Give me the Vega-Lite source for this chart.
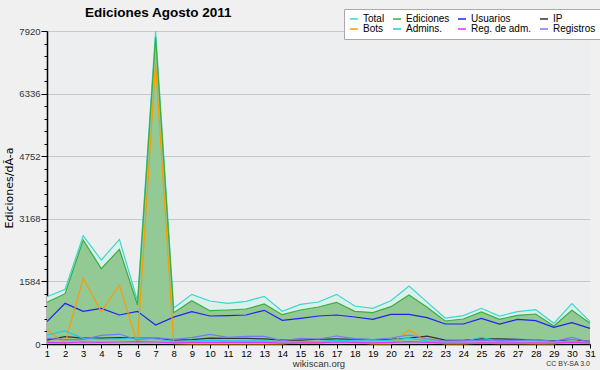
{
  "$schema": "https://vega.github.io/schema/vega-lite/v6.json",
  "width": 543,
  "height": 313,
  "autosize": "none",
  "padding": {"left": 47, "top": 31, "right": 10, "bottom": 26},
  "background": "#f0f0f0",
  "config": {
    "font": "Liberation Sans",
    "view": {"fill": "#edeef0", "stroke": null}
  },
  "title": {
    "text": "Ediciones  Agosto 2011",
    "anchor": "start",
    "frame": "group",
    "dx": 38,
    "dy": 13,
    "offset": 2,
    "fontSize": 13.5,
    "fontWeight": "bold",
    "color": "#000000"
  },
  "datasets": {
    "main": [
      {"d":1,"s":"Total","v":1197},{"d":2,"s":"Total","v":1384},{"d":3,"s":"Total","v":2740},{"d":4,"s":"Total","v":2125},{"d":5,"s":"Total","v":2648},{"d":6,"s":"Total","v":1088},{"d":7,"s":"Total","v":7920},{"d":8,"s":"Total","v":910},{"d":9,"s":"Total","v":1257},{"d":10,"s":"Total","v":1088},{"d":11,"s":"Total","v":1029},{"d":12,"s":"Total","v":1080},{"d":13,"s":"Total","v":1206},{"d":14,"s":"Total","v":827},{"d":15,"s":"Total","v":1004},{"d":16,"s":"Total","v":1063},{"d":17,"s":"Total","v":1257},{"d":18,"s":"Total","v":961},{"d":19,"s":"Total","v":903},{"d":20,"s":"Total","v":1096},{"d":21,"s":"Total","v":1467},{"d":22,"s":"Total","v":1060},{"d":23,"s":"Total","v":658},{"d":24,"s":"Total","v":717},{"d":25,"s":"Total","v":903},{"d":26,"s":"Total","v":708},{"d":27,"s":"Total","v":818},{"d":28,"s":"Total","v":868},{"d":29,"s":"Total","v":523},{"d":30,"s":"Total","v":1020},{"d":31,"s":"Total","v":565},
      {"d":1,"s":"Ediciones","v":1055},{"d":2,"s":"Ediciones","v":1273},{"d":3,"s":"Ediciones","v":2631},{"d":4,"s":"Ediciones","v":1906},{"d":5,"s":"Ediciones","v":2396},{"d":6,"s":"Ediciones","v":987},{"d":7,"s":"Ediciones","v":7760},{"d":8,"s":"Ediciones","v":793},{"d":9,"s":"Ediciones","v":1096},{"d":10,"s":"Ediciones","v":843},{"d":11,"s":"Ediciones","v":860},{"d":12,"s":"Ediciones","v":885},{"d":13,"s":"Ediciones","v":1012},{"d":14,"s":"Ediciones","v":742},{"d":15,"s":"Ediciones","v":860},{"d":16,"s":"Ediciones","v":936},{"d":17,"s":"Ediciones","v":1055},{"d":18,"s":"Ediciones","v":827},{"d":19,"s":"Ediciones","v":793},{"d":20,"s":"Ediciones","v":944},{"d":21,"s":"Ediciones","v":1240},{"d":22,"s":"Ediciones","v":930},{"d":23,"s":"Ediciones","v":582},{"d":24,"s":"Ediciones","v":632},{"d":25,"s":"Ediciones","v":810},{"d":26,"s":"Ediciones","v":624},{"d":27,"s":"Ediciones","v":726},{"d":28,"s":"Ediciones","v":759},{"d":29,"s":"Ediciones","v":455},{"d":30,"s":"Ediciones","v":852},{"d":31,"s":"Ediciones","v":523},
      {"d":1,"s":"Usuarios","v":565},{"d":2,"s":"Usuarios","v":1029},{"d":3,"s":"Usuarios","v":827},{"d":4,"s":"Usuarios","v":903},{"d":5,"s":"Usuarios","v":734},{"d":6,"s":"Usuarios","v":827},{"d":7,"s":"Usuarios","v":481},{"d":8,"s":"Usuarios","v":680},{"d":9,"s":"Usuarios","v":818},{"d":10,"s":"Usuarios","v":708},{"d":11,"s":"Usuarios","v":717},{"d":12,"s":"Usuarios","v":734},{"d":13,"s":"Usuarios","v":852},{"d":14,"s":"Usuarios","v":599},{"d":15,"s":"Usuarios","v":650},{"d":16,"s":"Usuarios","v":708},{"d":17,"s":"Usuarios","v":734},{"d":18,"s":"Usuarios","v":683},{"d":19,"s":"Usuarios","v":624},{"d":20,"s":"Usuarios","v":751},{"d":21,"s":"Usuarios","v":751},{"d":22,"s":"Usuarios","v":666},{"d":23,"s":"Usuarios","v":506},{"d":24,"s":"Usuarios","v":506},{"d":25,"s":"Usuarios","v":650},{"d":26,"s":"Usuarios","v":506},{"d":27,"s":"Usuarios","v":624},{"d":28,"s":"Usuarios","v":590},{"d":29,"s":"Usuarios","v":422},{"d":30,"s":"Usuarios","v":540},{"d":31,"s":"Usuarios","v":397},
      {"d":1,"s":"IP","v":100},{"d":2,"s":"IP","v":185},{"d":3,"s":"IP","v":150},{"d":4,"s":"IP","v":150},{"d":5,"s":"IP","v":160},{"d":6,"s":"IP","v":150},{"d":7,"s":"IP","v":140},{"d":8,"s":"IP","v":100},{"d":9,"s":"IP","v":110},{"d":10,"s":"IP","v":150},{"d":11,"s":"IP","v":140},{"d":12,"s":"IP","v":140},{"d":13,"s":"IP","v":130},{"d":14,"s":"IP","v":100},{"d":15,"s":"IP","v":100},{"d":16,"s":"IP","v":120},{"d":17,"s":"IP","v":130},{"d":18,"s":"IP","v":120},{"d":19,"s":"IP","v":110},{"d":20,"s":"IP","v":120},{"d":21,"s":"IP","v":150},{"d":22,"s":"IP","v":200},{"d":23,"s":"IP","v":100},{"d":24,"s":"IP","v":90},{"d":25,"s":"IP","v":130},{"d":26,"s":"IP","v":130},{"d":27,"s":"IP","v":120},{"d":28,"s":"IP","v":100},{"d":29,"s":"IP","v":80},{"d":30,"s":"IP","v":100},{"d":31,"s":"IP","v":70},
      {"d":1,"s":"Bots","v":354},{"d":2,"s":"Bots","v":20},{"d":3,"s":"Bots","v":1662},{"d":4,"s":"Bots","v":818},{"d":5,"s":"Bots","v":1493},{"d":6,"s":"Bots","v":10},{"d":7,"s":"Bots","v":7100},{"d":8,"s":"Bots","v":10},{"d":9,"s":"Bots","v":0},{"d":10,"s":"Bots","v":0},{"d":11,"s":"Bots","v":0},{"d":12,"s":"Bots","v":0},{"d":13,"s":"Bots","v":0},{"d":14,"s":"Bots","v":0},{"d":15,"s":"Bots","v":40},{"d":16,"s":"Bots","v":40},{"d":17,"s":"Bots","v":90},{"d":18,"s":"Bots","v":30},{"d":19,"s":"Bots","v":0},{"d":20,"s":"Bots","v":0},{"d":21,"s":"Bots","v":354},{"d":22,"s":"Bots","v":60},{"d":23,"s":"Bots","v":0},{"d":24,"s":"Bots","v":0},{"d":25,"s":"Bots","v":20},{"d":26,"s":"Bots","v":10},{"d":27,"s":"Bots","v":10},{"d":28,"s":"Bots","v":0},{"d":29,"s":"Bots","v":0},{"d":30,"s":"Bots","v":100},{"d":31,"s":"Bots","v":10},
      {"d":1,"s":"Admins.","v":228},{"d":2,"s":"Admins.","v":329},{"d":3,"s":"Admins.","v":144},{"d":4,"s":"Admins.","v":120},{"d":5,"s":"Admins.","v":130},{"d":6,"s":"Admins.","v":150},{"d":7,"s":"Admins.","v":130},{"d":8,"s":"Admins.","v":60},{"d":9,"s":"Admins.","v":80},{"d":10,"s":"Admins.","v":100},{"d":11,"s":"Admins.","v":80},{"d":12,"s":"Admins.","v":80},{"d":13,"s":"Admins.","v":80},{"d":14,"s":"Admins.","v":60},{"d":15,"s":"Admins.","v":60},{"d":16,"s":"Admins.","v":70},{"d":17,"s":"Admins.","v":100},{"d":18,"s":"Admins.","v":80},{"d":19,"s":"Admins.","v":80},{"d":20,"s":"Admins.","v":100},{"d":21,"s":"Admins.","v":150},{"d":22,"s":"Admins.","v":80},{"d":23,"s":"Admins.","v":50},{"d":24,"s":"Admins.","v":60},{"d":25,"s":"Admins.","v":170},{"d":26,"s":"Admins.","v":60},{"d":27,"s":"Admins.","v":80},{"d":28,"s":"Admins.","v":80},{"d":29,"s":"Admins.","v":60},{"d":30,"s":"Admins.","v":80},{"d":31,"s":"Admins.","v":40},
      {"d":1,"s":"Reg. de adm.","v":40},{"d":2,"s":"Reg. de adm.","v":30},{"d":3,"s":"Reg. de adm.","v":50},{"d":4,"s":"Reg. de adm.","v":40},{"d":5,"s":"Reg. de adm.","v":50},{"d":6,"s":"Reg. de adm.","v":60},{"d":7,"s":"Reg. de adm.","v":50},{"d":8,"s":"Reg. de adm.","v":30},{"d":9,"s":"Reg. de adm.","v":40},{"d":10,"s":"Reg. de adm.","v":40},{"d":11,"s":"Reg. de adm.","v":40},{"d":12,"s":"Reg. de adm.","v":40},{"d":13,"s":"Reg. de adm.","v":40},{"d":14,"s":"Reg. de adm.","v":20},{"d":15,"s":"Reg. de adm.","v":30},{"d":16,"s":"Reg. de adm.","v":30},{"d":17,"s":"Reg. de adm.","v":50},{"d":18,"s":"Reg. de adm.","v":40},{"d":19,"s":"Reg. de adm.","v":30},{"d":20,"s":"Reg. de adm.","v":40},{"d":21,"s":"Reg. de adm.","v":60},{"d":22,"s":"Reg. de adm.","v":40},{"d":23,"s":"Reg. de adm.","v":20},{"d":24,"s":"Reg. de adm.","v":20},{"d":25,"s":"Reg. de adm.","v":30},{"d":26,"s":"Reg. de adm.","v":30},{"d":27,"s":"Reg. de adm.","v":30},{"d":28,"s":"Reg. de adm.","v":30},{"d":29,"s":"Reg. de adm.","v":20},{"d":30,"s":"Reg. de adm.","v":40},{"d":31,"s":"Reg. de adm.","v":20},
      {"d":1,"s":"Registros","v":142},{"d":2,"s":"Registros","v":111},{"d":3,"s":"Registros","v":109},{"d":4,"s":"Registros","v":219},{"d":5,"s":"Registros","v":252},{"d":6,"s":"Registros","v":101},{"d":7,"s":"Registros","v":160},{"d":8,"s":"Registros","v":117},{"d":9,"s":"Registros","v":161},{"d":10,"s":"Registros","v":245},{"d":11,"s":"Registros","v":169},{"d":12,"s":"Registros","v":195},{"d":13,"s":"Registros","v":194},{"d":14,"s":"Registros","v":85},{"d":15,"s":"Registros","v":144},{"d":16,"s":"Registros","v":127},{"d":17,"s":"Registros","v":202},{"d":18,"s":"Registros","v":134},{"d":19,"s":"Registros","v":110},{"d":20,"s":"Registros","v":152},{"d":21,"s":"Registros","v":227},{"d":22,"s":"Registros","v":130},{"d":23,"s":"Registros","v":76},{"d":24,"s":"Registros","v":85},{"d":25,"s":"Registros","v":93},{"d":26,"s":"Registros","v":84},{"d":27,"s":"Registros","v":92},{"d":28,"s":"Registros","v":109},{"d":29,"s":"Registros","v":68},{"d":30,"s":"Registros","v":168},{"d":31,"s":"Registros","v":42}
    ],
    "note": [{"d": 31, "v": 0, "t": "CC BY-SA 3.0"}]
  },
  "data": {"name": "main"},
  "encoding": {
    "x": {
      "field": "d", "type": "quantitative",
      "scale": {"domain": [1, 31], "nice": false, "zero": false},
      "axis": {
        "title": "wikiscan.org",
        "titleFontSize": 9.5, "titleFontWeight": "normal", "titleColor": "#333333", "titlePadding": 1,
        "values": [1,2,3,4,5,6,7,8,9,10,11,12,13,14,15,16,17,18,19,20,21,22,23,24,25,26,27,28,29,30,31],
        "grid": false, "domainColor": "#000000", "domainWidth": 1.5,
        "tickColor": "#000000", "tickSize": 4,
        "labelFontSize": 9.5, "labelColor": "#000000", "labelPadding": 0, "labelFlush": false
      }
    },
    "y": {
      "field": "v", "type": "quantitative",
      "scale": {"domain": [0, 7920], "nice": false},
      "axis": {
        "title": "Ediciones/dÃ-a",
        "titleFont": "DejaVu Sans",
        "titleFontSize": 11, "titleFontWeight": "normal", "titleColor": "#000000", "titlePadding": 4,
        "values": [0,316.8,633.6,950.4,1267.2,1584,1900.8,2217.6,2534.4,2851.2,3168,3484.8,3801.6,4118.4,4435.2,4752,5068.8,5385.6,5702.4,6019.2,6336,6652.8,6969.6,7286.4,7603.2,7920],
        "labelExpr": "abs(datum.value/1584 - round(datum.value/1584)) < 0.001 ? format(datum.value, 'd') : ''",
        "tickSize": {"condition": {"test": "abs(datum.value/1584 - round(datum.value/1584)) < 0.001", "value": 6}, "value": 3},
        "gridOpacity": {"condition": {"test": "abs(datum.value/1584 - round(datum.value/1584)) < 0.001", "value": 1}, "value": 0},
        "gridColor": "#c8c8c8",
        "domainColor": "#000000", "domainWidth": 1.5,
        "tickColor": "#000000",
        "labelFontSize": 9.5, "labelColor": "#333333", "labelPadding": 1
      }
    }
  },
  "layer": [
    {
      "transform": [{"filter": "datum.s == 'Total'"}],
      "mark": {"type": "area", "color": "#d9f1ea", "opacity": 1}
    },
    {
      "transform": [{"filter": "datum.s == 'Ediciones'"}],
      "mark": {"type": "area", "color": "#93c995", "opacity": 1}
    },
    {
      "mark": {"type": "line", "strokeWidth": 1.2},
      "encoding": {
        "color": {
          "field": "s", "type": "nominal",
          "scale": {
            "domain": ["Total","Ediciones","Usuarios","IP","Bots","Admins.","Reg. de adm.","Registros"],
            "range": ["#3dd6cc","#3aae3e","#2222ee","#333333","#ff9900","#22ccdd","#dd33ff","#7777ff"]
          },
          "legend": {
            "title": null,
            "orient": "none",
            "legendX": 297,
            "legendY": -22,
            "direction": "horizontal",
            "columns": 4,
            "symbolType": "stroke",
            "symbolSize": 64,
            "symbolStrokeWidth": 1.5,
            "labelFontSize": 10,
            "labelColor": "#000000",
            "labelOffset": 4,
            "columnPadding": 5,
            "rowPadding": 0,
            "padding": 5,
            "fillColor": "#ffffff",
            "strokeColor": "#aaaaaa"
          }
        },
        "order": {"field": "s"}
      }
    },
    {
      "data": {"name": "note"},
      "mark": {"type": "text", "align": "right", "baseline": "top", "dy": 16, "fontSize": 7, "color": "#333333"},
      "encoding": {
        "x": {"field": "d", "type": "quantitative"},
        "y": {"field": "v", "type": "quantitative"},
        "text": {"field": "t"}
      }
    }
  ]
}
